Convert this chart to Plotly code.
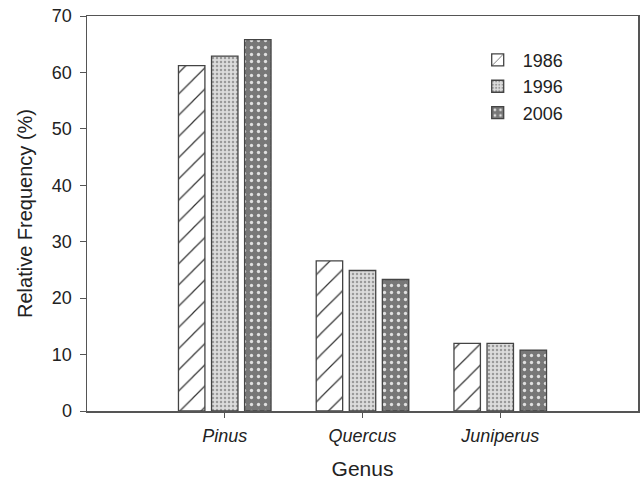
import plotly.graph_objects as go

genera = ["<i>Pinus</i>", "<i>Quercus</i>", "<i>Juniperus</i>"]
years = ["1986", "1996", "2006"]
freq_1986 = [61.2, 26.6, 12.0]
freq_1996 = [62.9, 24.9, 12.0]
freq_2006 = [65.8, 23.3, 10.8]
y_ticks = [0, 10, 20, 30, 40, 50, 60, 70]

series = [freq_1986, freq_1996, freq_2006]
patterns = [
    dict(shape="/", fgcolor="#333333", bgcolor="white", size=15, solidity=0.08, fillmode="replace"),
    dict(shape=".", fgcolor="#9a9a9a", bgcolor="#dcdcdc", size=4, solidity=0.3, fillmode="replace"),
    dict(shape=".", fgcolor="#e0e0e0", bgcolor="#777777", size=7, solidity=0.18, fillmode="replace"),
]

fig = go.Figure()
for name, vals, pat in zip(years, series, patterns):
    fig.add_trace(go.Bar(
        x=genera, y=vals, name=name,
        marker=dict(color="white", pattern=pat,
                    line=dict(color="#444444", width=1.3)),
    ))

axis_font = dict(family="Liberation Sans, Arial, sans-serif", size=18, color="#222222")
fig.update_layout(
    width=644, height=480,
    margin=dict(l=87, r=6, t=16, b=69, autoexpand=False),
    plot_bgcolor="white", paper_bgcolor="white",
    barmode="group", bargap=0.28, bargroupgap=0.2,
    font=axis_font,
    showlegend=True,
    hovermode=False,
    legend=dict(x=0.70, y=0.935, xanchor="left", yanchor="top",
                bgcolor="rgba(0,0,0,0)", font=dict(size=18, color="#222222"),
                itemwidth=40, tracegroupgap=0),
)
fig.update_xaxes(
    range=[-1, 3], showline=True, linecolor="#555555", linewidth=1.5, mirror=True,
    ticks="outside", ticklen=5, tickcolor="#555555", showgrid=False, zeroline=False,
    automargin=False, ticklabelstandoff=3,
    title=dict(text="Genus", font=dict(size=21), standoff=16),
    tickfont=dict(size=18),
)
fig.update_yaxes(
    range=[0, 70], tickvals=y_ticks, showline=True, linecolor="#555555", linewidth=1.5, mirror=True,
    ticks="outside", ticklen=6, tickcolor="#555555", showgrid=False, zeroline=False,
    automargin=False, ticklabelstandoff=4,
    title=dict(text="Relative Frequency (%)", font=dict(size=20), standoff=14),
    tickfont=dict(size=18),
)
fig.write_html("out.html", post_script="document.body.style.margin='0';",
               config={"displayModeBar": False, "staticPlot": True})
